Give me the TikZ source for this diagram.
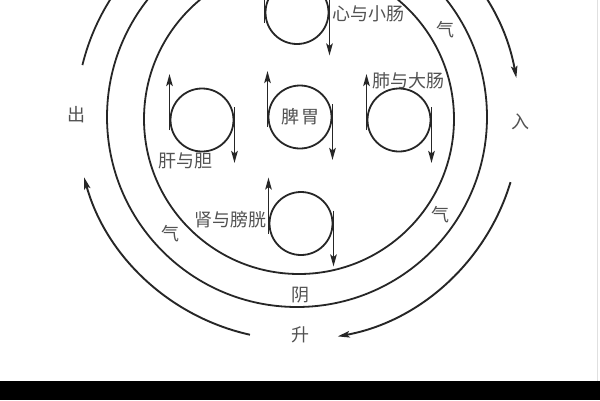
\documentclass[tikz,border=0pt]{standalone}
\usepackage{fontspec}
\newfontfamily\cjk{Noto Sans CJK SC}
\usetikzlibrary{arrows.meta,calc}
\begin{document}
\begin{tikzpicture}[x=1pt,y=-1pt,
  ring/.style={line width=1.8pt, draw=black!85},
  organ/.style={circle, draw=black!85, line width=1.8pt, minimum size=63pt, inner sep=0pt},
  flow/.style={line width=1.9pt, draw=black!85, -{Stealth[length=12pt,width=6.5pt,inset=2.5pt]}},
  lbl/.style={font=\cjk\fontsize{18}{18}\selectfont, text=black!68, inner sep=0pt},
]
\useasboundingbox (0,0) rectangle (600,400);
\fill[white] (0,0) rectangle (600,400);
\coordinate (O) at (298,118);
% middle and inner rings
\draw[ring] (297,117) circle[radius=190];
\draw[ring] (299,119) circle[radius=155];
% outer ring arcs
\draw[ring] (O) ++(193.8:222) arc[start angle=193.8,end angle=268,radius=222];
\draw[flow] (O) ++(-92:222) arc[start angle=-92,end angle=-10.4,radius=222];
\draw[flow] (O) ++(16.8:222) arc[start angle=16.8,end angle=79.7,radius=222];
\draw[flow] (O) ++(102.5:222) arc[start angle=102.5,end angle=164.5,radius=222];
% organ circles
\node[organ] (T) at (297,12.5) {};
\node[organ] (P) at (300,117) {};
\node[organ] (L) at (202,120) {};
\node[organ] (R) at (399,120) {};
\node[organ] (B) at (301,223.5) {};
\foreach \n in {T,P,L,R,B} {
  \draw[flow] ($(\n)+(-32.5,10)$) -- ($(\n)+(-32.5,-46)$);
  \draw[flow] ($(\n)+(32.5,-13)$) -- ($(\n)+(32.5,43)$);
}
% labels
\node[lbl] (tP) at (P) {脾\kern2pt 胃};
\node[lbl] (tT) at (368,14) {心与小肠};
\node[lbl] (tR) at (408,81) {肺与大肠};
\node[lbl] (tL) at (185,161) {肝与胆};
\node[lbl] (tB) at (230,220) {肾与膀胱};
\node[lbl] (out) at (76,115) {出};
\node[lbl] (in) at (520,122) {入};
\node[lbl] (q1) at (445,30) {气};
\node[lbl] (q2) at (170,234) {气};
\node[lbl] (q3) at (440,215) {气};
\node[lbl] (yin) at (300,295) {阴};
\node[lbl] (sh) at (300,335) {升};
% frame details
\draw[black!12, line width=0.8pt] (597.5,0) -- (597.5,381);
\fill[black] (0,381) rectangle (600,400);
\end{tikzpicture}
\end{document}
